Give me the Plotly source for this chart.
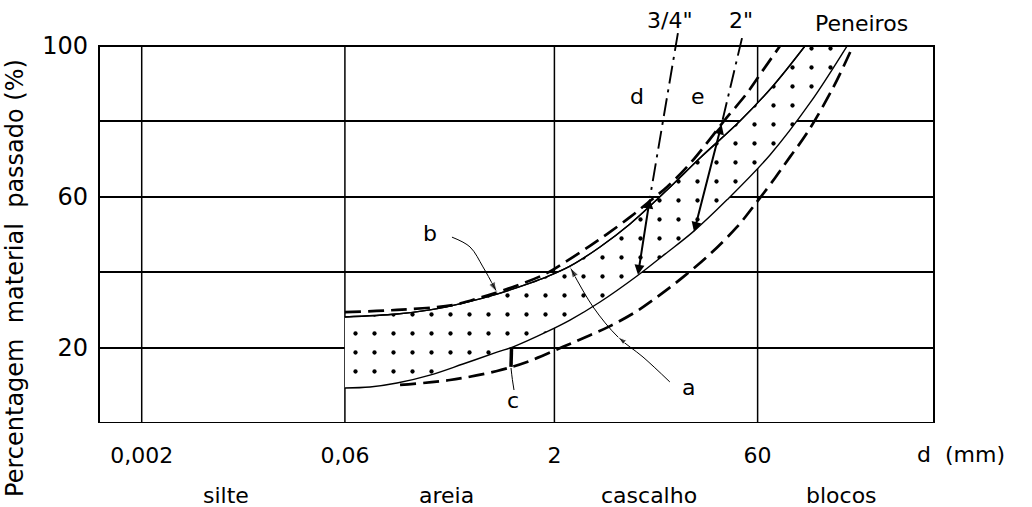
import numpy as np
import plotly.graph_objects as go

# ---------------- data ----------------
x_ticks = [0.002, 0.06, 2, 60]
x_ticktext = ["0,002", "0,06", "2", "60"]
y_ticks = [0, 20, 40, 60, 80, 100]
y_ticktext = ["", "20", "", "60", "", "100"]

# grain size (mm) / percent passing
upper_solid_d = [0.06, 0.1435, 0.249, 0.433, 0.765, 1.329, 1.738, 2.596, 4.29, 7.09, 13.17, 22.87, 44.67, 77.6, 132.6]
upper_solid_p = [28.1, 28.9, 30.0, 31.8, 34.2, 37.1, 38.7, 41.6, 46.7, 52.8, 61.8, 70.3, 80.1, 89.4, 100]
lower_solid_d = [0.06, 0.0913, 0.1435, 0.249, 0.433, 0.765, 1.034, 1.738, 2.596, 4.29, 7.97, 12.73, 20.34, 35.94, 73.8, 144.2, 267.9]
lower_solid_p = [9.3, 9.55, 10.6, 12.7, 15.65, 18.8, 20.4, 24.1, 27.3, 32.1, 39.0, 44.8, 50.7, 59.2, 71.1, 84.9, 100]
upper_dash_d = [0.06, 0.1435, 0.366, 0.595, 1.0, 1.708, 2.47, 3.628, 4.824, 7.088, 9.906, 13.17, 18.71, 25.72, 34.18, 50.23, 65.67, 87.28]
upper_dash_p = [29.4, 30.0, 31.3, 33.4, 36.1, 39.5, 43.0, 47.0, 50.1, 54.6, 58.9, 62.6, 68.2, 74.3, 80.1, 87.5, 93.6, 100]
lower_dash_d = [0.151, 0.348, 0.765, 1.264, 2.309, 3.628, 5.072, 7.968, 11.71, 17.21, 27.04, 42.49, 55.54, 80.27, 103.2, 137.1, 211.9, 296.1]
lower_dash_p = [10.1, 11.4, 13.8, 16.2, 20.2, 23.3, 25.7, 29.7, 34.0, 38.7, 44.8, 52.0, 57.3, 65.0, 70.6, 76.9, 88.9, 100]

# sieve lines (3/4" and 2")
sieve34_d = [15.8, 9.91]
sieve34_p = [103.4, 59.9]
sieve2_d = [46.2, 33.0]
sieve2_p = [102.1, 79.6]

# double arrows d and e (start d, start p, end d, end p)
arrow_d = [9.91, 59.9, 8.10, 39.3]
arrow_e = [33.0, 79.6, 20.7, 50.7]

# leaders
b_leader_d = [0.360, 0.487, 0.605, 0.716, 0.765]
b_leader_p = [49.3, 46.7, 41.4, 36.6, 34.7]
a_leader_d = [13.8, 8.81, 5.80, 3.82, 2.60]
a_leader_p = [10.9, 17.5, 22.8, 30.8, 41.3]
c_leader_d = [1.017, 0.99, 0.967]
c_leader_p = [8.75, 11.5, 14.6]
c_bar_d = [0.967, 0.975]
c_bar_p = [14.9, 19.7]

# text labels
point_labels = ["a", "b", "c", "d", "e", '3/4"', '2"', "Peneiros"]
point_label_d = [19.0, 0.249, 1.0, 7.97, 22.1, 13.8, 45.4, 344]
point_label_p = [9.5, 50.4, 6.1, 86.5, 86.5, 106.9, 106.9, 106.1]
categories = ["silte", "areia", "cascalho", "blocos"]
category_d = [0.0082, 0.331, 9.74, 246]

FONT = "DejaVu Sans"
SMOOTH = 1.0
fig = go.Figure()

# vertical grid lines
gx, gy = [], []
for v in x_ticks:
    gx += [v, v, None]
    gy += [0, 100, None]
fig.add_trace(go.Scatter(x=gx, y=gy, mode="lines", line=dict(color="black", width=1.5),
                         hoverinfo="skip"))

# stippled band between solid curves
fig.add_trace(go.Scatter(x=upper_solid_d, y=upper_solid_p, mode="lines",
                         line=dict(color="black", width=1.4, shape="spline", smoothing=SMOOTH)))
fig.add_trace(go.Scatter(x=lower_solid_d, y=lower_solid_p, mode="lines",
                         line=dict(color="black", width=1.4, shape="spline", smoothing=SMOOTH),
                         fill="tonexty", fillcolor="rgba(255,255,255,0)",
                         fillpattern=dict(shape=".", fgcolor="black", bgcolor="white",
                                          size=19, solidity=0.04, fgopacity=1)))
fig.add_trace(go.Scatter(x=upper_solid_d, y=upper_solid_p, mode="lines",
                         line=dict(color="black", width=1.4, shape="spline", smoothing=SMOOTH)))

# dashed envelopes
for dd, pp in [(upper_dash_d, upper_dash_p), (lower_dash_d, lower_dash_p)]:
    fig.add_trace(go.Scatter(x=dd, y=pp, mode="lines",
                             line=dict(color="black", width=2.7, dash="16px,7px",
                                       shape="spline", smoothing=SMOOTH)))

# sieve lines
for dd, pp in [(sieve34_d, sieve34_p), (sieve2_d, sieve2_p)]:
    fig.add_trace(go.Scatter(x=dd, y=pp, mode="lines",
                             line=dict(color="black", width=1.9, dash="18px,6px,3px,6px")))

# leaders
fig.add_trace(go.Scatter(x=b_leader_d, y=b_leader_p, mode="lines+markers",
                         line=dict(color="black", width=1, shape="spline"),
                         marker=dict(symbol="arrow", size=[0, 0, 0, 0, 11], angleref="previous",
                                     color="black")))
fig.add_trace(go.Scatter(x=a_leader_d, y=a_leader_p, mode="lines+markers",
                         line=dict(color="black", width=1, shape="spline"),
                         marker=dict(symbol="arrow", size=[0, 0, 9, 0, 11], angleref="previous",
                                     color="black")))
fig.add_trace(go.Scatter(x=c_leader_d, y=c_leader_p, mode="lines",
                         line=dict(color="black", width=1, shape="spline")))
fig.add_trace(go.Scatter(x=c_bar_d, y=c_bar_p, mode="lines",
                         line=dict(color="black", width=3.5)))

annotations = []
for a in (arrow_d, arrow_e):
    annotations.append(dict(x=np.log10(a[2]), y=a[3], ax=np.log10(a[0]), ay=a[1],
                            xref="x", yref="y", axref="x", ayref="y", text="",
                            showarrow=True, arrowhead=2, arrowside="end+start",
                            arrowsize=1, arrowwidth=2, arrowcolor="black",
                            standoff=0, startstandoff=0))
for t, dv, pv in zip(point_labels, point_label_d, point_label_p):
    annotations.append(dict(x=np.log10(dv), y=pv, xref="x", yref="y", text=t,
                            showarrow=False, font=dict(family=FONT, size=22, color="black"),
                            xanchor="center", yanchor="middle"))
for t, dv in zip(categories, category_d):
    annotations.append(dict(x=np.log10(dv), y=-0.179, xref="x", yref="paper", text=t,
                            showarrow=False, font=dict(family=FONT, size=22, color="black"),
                            xanchor="center", yanchor="middle"))
annotations.append(dict(x=1.0323, y=-0.0794, xref="paper", yref="paper",
                        text="d\u00a0\u00a0(mm)", showarrow=False,
                        font=dict(family=FONT, size=22, color="black"),
                        xanchor="center", yanchor="middle"))
annotations.append(dict(x=-0.1006, y=0.36, xref="paper", yref="paper",
                        text="Percentagem\u00a0\u00a0material\u00a0\u00a0passado\u00a0(%)",
                        textangle=-90, showarrow=False,
                        font=dict(family=FONT, size=24, color="black"),
                        xanchor="center", yanchor="middle"))

fig.update_layout(
    width=1032, height=507,
    margin=dict(l=99, r=98, t=20, b=84),
    plot_bgcolor="white", paper_bgcolor="white",
    showlegend=False,
    annotations=annotations,
    shapes=[dict(type="rect", xref="x domain", yref="y", x0=0, x1=1, y0=0, y1=100,
                 line=dict(color="black", width=2), layer="above")],
    xaxis=dict(type="log", range=[-3.0094, 3.0603], tickvals=x_ticks, ticktext=x_ticktext,
               showgrid=False, zeroline=False, showline=False, ticks="",
               ticklabelstandoff=17,
               tickfont=dict(family=FONT, size=22, color="black")),
    yaxis=dict(range=[0, 106.9], tickvals=y_ticks, ticktext=y_ticktext,
               showgrid=True, gridcolor="black", gridwidth=1.5, zeroline=False,
               showline=False, ticks="", ticklabelstandoff=10,
               tickfont=dict(family=FONT, size=24, color="black")),
)

fig.write_html("out.html")
